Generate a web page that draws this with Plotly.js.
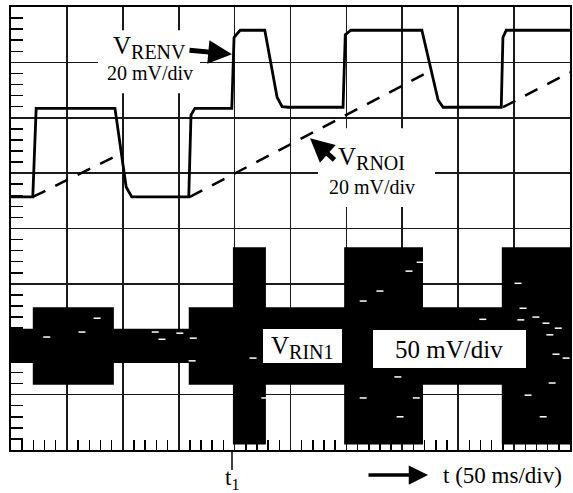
<!DOCTYPE html>
<html>
<head>
<meta charset="utf-8">
<script src="https://cdn.plot.ly/plotly-3.0.1.min.js"></script>
<style>html,body{margin:0;padding:0;background:#fff;}#chart{width:573px;height:493px;}</style>
</head>
<body>
<div id="chart"></div>
<script>
// ---- data (time in divisions, 50 ms/div; amplitude in divisions) ----
const renvT = [0, 0.39, 0.45, 1.86, 2.06, 2.16, 3.18, 3.22, 3.29, 3.95, 3.99, 4.10, 4.54, 4.76, 4.85, 4.96, 5.94, 5.98, 6.08, 7.35, 7.64, 7.73, 8.77, 8.80, 8.86, 10];
const renvV = [4.57, 4.57, 6.17, 6.17, 4.75, 4.57, 4.57, 6.05, 6.17, 6.17, 7.45, 7.58, 7.58, 6.37, 6.20, 6.19, 6.19, 7.50, 7.58, 7.58, 6.32, 6.19, 6.19, 7.45, 7.58, 7.58];

const rnoiT = [0.39, 2.00, null, 3.20, 7.53, null, 8.80, 10];
const rnoiV = [4.57, 5.37, null, 4.57, 6.86, null, 6.19, 6.82];

const rinEdges = [0, 0.39, 1.84, 3.18, 3.97, 4.56, 5.96, 7.37, 8.78, 10];
const rinHalf  = [0.31, 0.70, 0.31, 0.70, 1.78, 0.70, 1.78, 0.70, 1.78];
const rinCenter = 1.88;

// white noise speckles visible inside the RIN1 trace
const speckT = [7.12, 6.60, 7.32, 6.30, 9.07, 9.16, 9.39, 9.57, 9.79, 9.64, 9.75, 9.68, 9.25, 9.52, 6.96, 6.30, 6.92, 7.25, 8.44, 9.12, 9.93, 1.27, 1.54, 0.64, 2.70, 3.02, 3.26, 2.58, 4.33, 4.54, 3.24];
const speckV = [3.23, 2.87, 3.39, 2.69, 3.01, 2.56, 2.40, 2.29, 2.20, 2.08, 1.73, 1.21, 0.99, 0.60, 0.60, 0.94, 1.32, 0.94, 2.36, 2.35, 1.66, 2.13, 2.38, 2.04, 2.00, 2.11, 2.02, 2.13, 1.66, 0.94, 1.61];

// ---- build RIN1 envelope polygon ----
const rinX = [], rinY = [];
for (let i = 0; i < rinHalf.length; i++) {
  rinX.push(rinEdges[i], rinEdges[i+1]);
  rinY.push(rinCenter + rinHalf[i], rinCenter + rinHalf[i]);
}
for (let i = rinHalf.length - 1; i >= 0; i--) {
  rinX.push(rinEdges[i+1], rinEdges[i]);
  rinY.push(rinCenter - rinHalf[i], rinCenter - rinHalf[i]);
}

const X = px => (px - 11) / 55.9;
const Y = py => (450 - py) / 55.4;
const PX = px => (px - 11) / 559;
const PY = py => (450 - py) / 443;

const serif = 'Liberation Serif, Times New Roman, serif';
const sub = (s, sz) => '<sub><span style="font-size:' + sz + 'px">' + s + '</span></sub>';

const traces = [
  {x: rinX, y: rinY, type: 'scatter', mode: 'lines', fill: 'toself', fillcolor: '#000',
   line: {width: 0, color: '#000'}, hoverinfo: 'skip', showlegend: false},
  {x: speckT, y: speckV, type: 'scatter', mode: 'markers',
   marker: {symbol: 'line-ew', size: 5, line: {color: '#fff', width: 1.5}}, showlegend: false},
  {x: rnoiT, y: rnoiV, type: 'scatter', mode: 'lines', connectgaps: false,
   line: {color: '#000', width: 2.5, dash: '14px,11px'}, showlegend: false},
  {x: renvT, y: renvV, type: 'scatter', mode: 'lines',
   line: {color: '#000', width: 2.8}, showlegend: false}
];

const axBase = {
  showgrid: true, gridcolor: '#1a1a1a', gridwidth: 1.6, zeroline: false,
  showline: true, linecolor: '#000', linewidth: 2, mirror: true,
  showticklabels: false, ticks: '', dtick: 1, tick0: 0, fixedrange: true
};

const layout = {
  width: 573, height: 493,
  margin: {l: 11, r: 3, t: 7, b: 43},
  paper_bgcolor: '#fff', plot_bgcolor: '#fff',
  showlegend: false,
  xaxis: Object.assign({}, axBase, {range: [0, 10],
    minor: {dtick: 0.2, tick0: 0, ticks: 'inside', ticklen: 10, tickwidth: 1.5, tickcolor: '#000', showgrid: false}}),
  yaxis: Object.assign({}, axBase, {range: [0, 8],
    minor: {dtick: 0.2, tick0: 0, ticks: 'inside', ticklen: 12, tickwidth: 1.5, tickcolor: '#000', showgrid: false}}),
  shapes: [
    {type: 'rect', xref: 'x', yref: 'y', x0: X(98), x1: X(200), y0: Y(93), y1: Y(30),
     fillcolor: '#fff', line: {width: 0}, layer: 'between'},
    {type: 'rect', xref: 'x', yref: 'y', x0: X(318), x1: X(435), y0: Y(207), y1: Y(128),
     fillcolor: '#fff', line: {width: 0}, layer: 'between'},
    {type: 'rect', xref: 'x', yref: 'y', x0: X(263), x1: X(342), y0: Y(363), y1: Y(329),
     fillcolor: '#fff', line: {width: 0}, layer: 'above'},
    {type: 'rect', xref: 'x', yref: 'y', x0: X(373), x1: X(526), y0: Y(368), y1: Y(330),
     fillcolor: '#fff', line: {width: 0}, layer: 'above'},
    {type: 'line', xref: 'paper', yref: 'paper', x0: PX(232), x1: PX(232), y0: 0, y1: PY(470),
     line: {color: '#000', width: 1.5}}
  ],
  annotations: [
    {xref: 'x', yref: 'y', x: X(111), y: Y(47), xanchor: 'left', yanchor: 'middle', showarrow: false,
     text: 'V' + sub('RENV', 20), font: {family: serif, size: 25, color: '#000'}},
    {xref: 'x', yref: 'y', x: X(150), y: Y(73), xanchor: 'center', yanchor: 'middle', showarrow: false,
     text: '20 mV/div', font: {family: serif, size: 20, color: '#000'}},
    {xref: 'x', yref: 'y', x: X(232), y: Y(54), ax: -44, ay: -4, showarrow: true,
     arrowhead: 2, arrowsize: 0.95, arrowwidth: 5, arrowcolor: '#000', text: ''},
    {xref: 'x', yref: 'y', x: X(336), y: Y(158), xanchor: 'left', yanchor: 'middle', showarrow: false,
     text: 'V' + sub('RNOI', 20), font: {family: serif, size: 25, color: '#000'}},
    {xref: 'x', yref: 'y', x: X(372), y: Y(187), xanchor: 'center', yanchor: 'middle', showarrow: false,
     text: '20 mV/div', font: {family: serif, size: 20, color: '#000'}},
    {xref: 'x', yref: 'y', x: X(310), y: Y(138), ax: 26, ay: 23, showarrow: true,
     arrowhead: 2, arrowsize: 0.95, arrowwidth: 5, arrowcolor: '#000', text: ''},
    {xref: 'x', yref: 'y', x: X(302), y: Y(347), xanchor: 'center', yanchor: 'middle', showarrow: false,
     text: 'V' + sub('RIN1', 20), font: {family: serif, size: 25, color: '#000'}},
    {xref: 'x', yref: 'y', x: X(449), y: Y(349), xanchor: 'center', yanchor: 'middle', showarrow: false,
     text: '50 mV/div', font: {family: serif, size: 25, color: '#000'}},
    {xref: 'paper', yref: 'paper', x: PX(232), y: PY(479), xanchor: 'center', yanchor: 'middle', showarrow: false,
     text: 't<sub>1</sub>', font: {family: serif, size: 23, color: '#000'}},
    {xref: 'paper', yref: 'paper', x: PX(428), y: PY(475), ax: -61, ay: 0, showarrow: true,
     arrowhead: 2, arrowsize: 1.1, arrowwidth: 3.5, arrowcolor: '#000', text: ''},
    {xref: 'paper', yref: 'paper', x: PX(441), y: PY(475), xanchor: 'left', yanchor: 'middle', showarrow: false,
     text: 't (50 ms/div)', font: {family: serif, size: 23, color: '#000'}}
  ]
};

Plotly.newPlot('chart', traces, layout, {displayModeBar: false, staticPlot: true});
</script>
</body>
</html>
